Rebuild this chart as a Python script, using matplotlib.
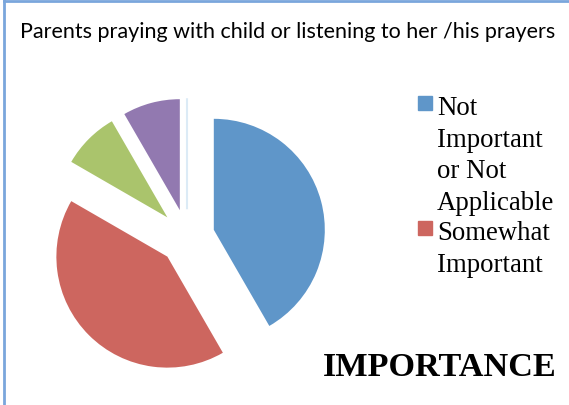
import matplotlib
matplotlib.use("Agg")
import matplotlib.pyplot as plt
from matplotlib.lines import Line2D
from matplotlib.patches import Rectangle

# share of answers (five categories, the last one is empty)
categories = ["Not\nImportant\nor Not\nApplicable", "Somewhat\nImportant",
              "Important", "Very Important", "Essential"]
values = [5, 5, 1, 1, 0]
colors = ["#5f96c9", "#cd665f", "#aac46c", "#9279b0", "#dcebf6"]

title = "Parents praying with child or listening to her /his prayers"
axis_title = "IMPORTANCE"

W, H = 569, 406
fig = plt.figure(figsize=(W / 100, H / 100), dpi=100)
fig.patch.set_facecolor("white")

# pie axes fills figure, 1 data unit = radius (111 px)
R = 111.0
cx, cy = 187.0, 238.0
ax = fig.add_axes([0, 0, 1, 1])

wedges, _ = ax.pie(values, colors=colors, startangle=90, counterclock=False,
                   explode=[0.25] * len(values), radius=1.0)
# the empty slice only shows as a thin line
wedges[-1].set_edgecolor(colors[-1])
wedges[-1].set_linewidth(1.5)

# pie() resets the limits, so set them afterwards
ax.set_xlim(-cx / R, (W - cx) / R)
ax.set_ylim(-(H - cy) / R, cy / R)
ax.set_aspect("auto")
ax.axis("off")

fig.text(20 / W, 1 - 38 / H, title, fontsize=15.5, family="Lato",
         ha="left", va="baseline", color="black")

# legend (only the first two entries fit in the frame)
serif = "Liberation Serif"
tops = [97, 222]
for i, top in enumerate(tops[:2]):
    fig.add_artist(Rectangle((418 / W, 1 - (top + 14) / H), 14 / W, 14 / H,
                             transform=fig.transFigure, color=colors[i],
                             zorder=5))
    fig.text(437 / W, 1 - (top - 1) / H, categories[i], fontsize=19.3,
             family=serif, ha="left", va="top", linespacing=1.35,
             color="black")

fig.text(323 / W, 1 - 376 / H, axis_title, fontsize=24.7, family=serif,
         weight="bold", ha="left", va="baseline", color="black")

# frame of the chart area (right and bottom are cut off)
fig.add_artist(Line2D([4 / W, 4 / W], [0, 1 - 2 / H], transform=fig.transFigure,
                      color="#7aa6dc", linewidth=2))
fig.add_artist(Line2D([4 / W, 1], [1 - 2 / H, 1 - 2 / H], transform=fig.transFigure,
                      color="#7aa6dc", linewidth=2))

fig.savefig("out.png", dpi=100)
